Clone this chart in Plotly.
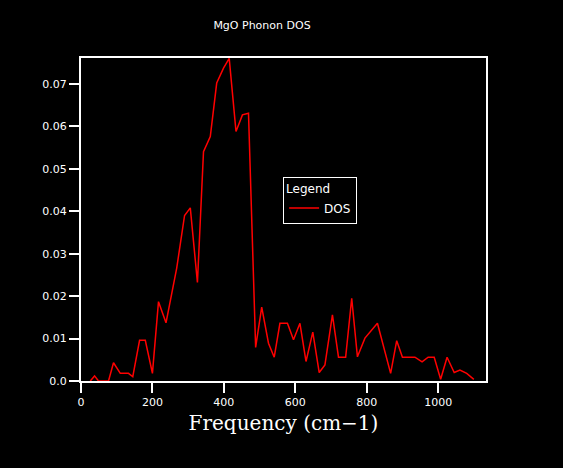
import plotly.graph_objects as go

freq = [26, 38, 49, 77, 91, 110, 133, 145, 164, 180, 200, 217, 238, 268, 290,
        306, 326, 336, 343, 362, 380, 399, 415, 434, 452, 469, 489, 506, 525,
        541, 557, 578, 595, 613, 630, 649, 667, 683, 704, 721, 741, 758, 774,
        795, 812, 830, 867, 884, 900, 918, 935, 955, 972, 989, 1007, 1025,
        1045, 1061, 1080, 1100]
dos = [0.0, 0.0012, 0.0, 0.0, 0.0043, 0.0018, 0.0018, 0.001, 0.0096, 0.0096,
       0.0018, 0.0187, 0.0137, 0.0266, 0.039, 0.0408, 0.0232, 0.041, 0.054,
       0.0576, 0.0702, 0.0737, 0.076, 0.0588, 0.0627, 0.0631, 0.0079, 0.0174,
       0.0089, 0.0056, 0.0136, 0.0136, 0.0097, 0.0136, 0.0046, 0.0115, 0.002,
       0.0038, 0.0156, 0.0056, 0.0056, 0.0195, 0.0057, 0.0101, 0.0118, 0.0136,
       0.0018, 0.0095, 0.0056, 0.0056, 0.0056, 0.0045, 0.0056, 0.0056, 0.0004,
       0.0056, 0.002, 0.0026, 0.0018, 0.0004]

x_ticks = [0, 200, 400, 600, 800, 1000]
y_ticks = [0.0, 0.01, 0.02, 0.03, 0.04, 0.05, 0.06, 0.07]
y_labels = ["0.0", "0.01", "0.02", "0.03", "0.04", "0.05", "0.06", "0.07"]

fig = go.Figure(
    [go.Scatter(x=freq, y=dos, mode="lines", name="DOS",
                line=dict(color="#ff0000", width=1.5))]
)

axis_style = dict(
    showline=True, linecolor="white", linewidth=2, mirror=True,
    ticks="outside", ticklen=10, tickwidth=2, tickcolor="white",
    showgrid=False, zeroline=False,
    tickfont=dict(family="DejaVu Sans", size=11, color="white"),
)

fig.update_layout(
    width=563, height=468,
    paper_bgcolor="black", plot_bgcolor="black",
    margin=dict(l=81, r=77, t=58, b=87),
    title=dict(text="MgO Phonon DOS", x=262 / 563, xanchor="center",
               y=1 - 25 / 468, yanchor="middle",
               font=dict(family="DejaVu Sans", size=11, color="white")),
    xaxis=dict(axis_style, range=[0, 1134], tickvals=x_ticks,
               title=dict(text="Frequency (cm\u22121)", standoff=8,
                          font=dict(family="DejaVu Serif", size=20, color="white"))),
    yaxis=dict(axis_style, range=[0, 0.0761], tickvals=y_ticks, ticktext=y_labels),
    showlegend=True,
    legend=dict(x=0.499, y=0.632, xanchor="left", yanchor="top",
                bgcolor="black", bordercolor="white", borderwidth=1,
                itemwidth=30, tracegroupgap=0,
                title=dict(text="Legend", font=dict(family="DejaVu Sans", size=12, color="white")),
                font=dict(family="DejaVu Sans", size=12, color="white")),
)

# page body has a default 8px margin; drop it so the figure sits at the corner
fig.write_html("out.html", config={"displayModeBar": False},
               post_script="document.body.style.margin='0';")
